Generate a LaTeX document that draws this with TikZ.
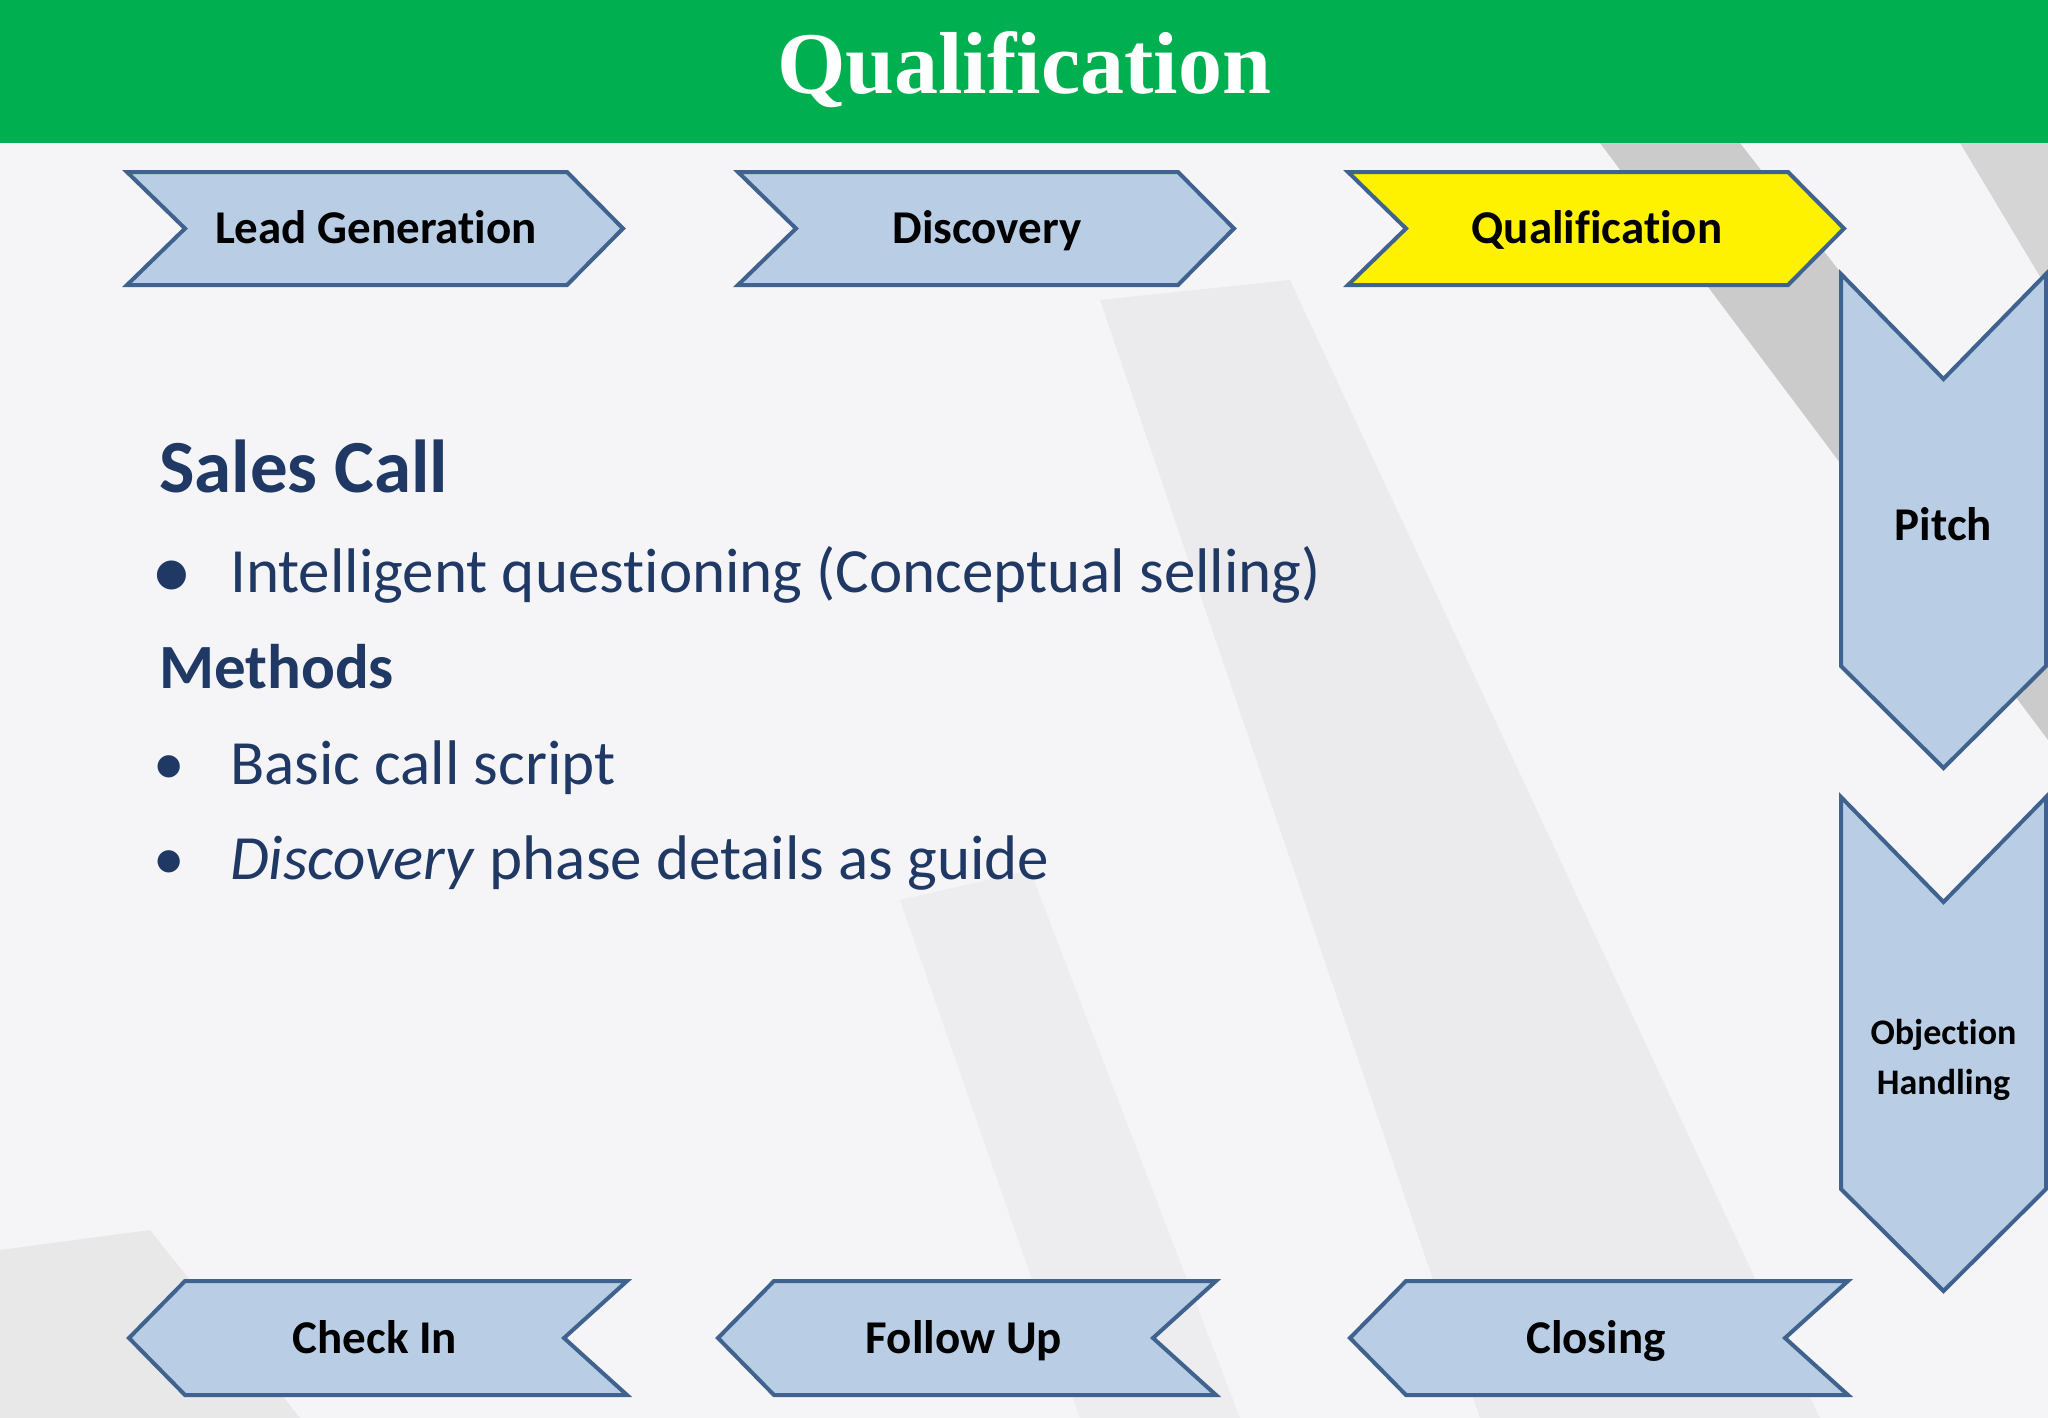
\documentclass[tikz,border=0pt]{standalone}
\usepackage{fontspec}
\setmainfont[Ligatures=CommonOff]{Carlito}
\newfontfamily\titlefont{Liberation Serif}
\usepackage{xcolor}
\usepackage{tikz}
\definecolor{bannergreen}{HTML}{00B050}
\definecolor{chevblue}{HTML}{B9CDE5}
\definecolor{chevline}{HTML}{3F628E}
\definecolor{navy}{HTML}{1F3864}
\definecolor{slidebg}{HTML}{F5F5F7}
\definecolor{brush}{HTML}{8E8E8A}
\tikzset{
  chev/.style={draw=chevline,line width=4pt,line join=miter,fill=chevblue},
  stagelbl/.style={font=\fontsize{47}{50}\selectfont\bfseries,text=black,text height=30pt,text depth=0pt},
  bodytxt/.style={font=\fontsize{63}{70}\selectfont,text=navy,anchor=base west,inner sep=0pt},
  headtxt/.style={bodytxt,font=\fontsize{75}{80}\selectfont\bfseries},
  streak/.style={fill=brush,opacity=0.22}
}
% stage arrows: right, left and down
\newcommand{\rchev}[4]{\draw[chev,fill=#4] (#1,172) -- (#1+440,172) -- (#1+496,228.5) -- (#1+440,285) -- (#1,285) -- (#1+58,228.5) -- cycle;
  \node[stagelbl] (#2) at (#1+249,228.5) {#3};}
\newcommand{\lchev}[3]{\draw[chev] (#1,1338) -- (#1+56,1281) -- (#1+498,1281) -- (#1+435,1338) -- (#1+498,1395) -- (#1+56,1395) -- cycle;
  \node[stagelbl] (#2) at (#1+246,1338) {#3};}
\newcommand{\dchev}[4]{\draw[chev] (1841,#1) -- (1943.5,#1+105) -- (2046,#1) -- (2046,#1+392) -- (1943.5,#1+494) -- (1841,#1+392) -- cycle;
  \node[stagelbl,align=center,text height=,text depth=] (#2) at (1943.5,#4) {#3};}

\begin{document}
\begin{tikzpicture}[x=1pt,y=-1pt]
\useasboundingbox (0,0) rectangle (2048,1418);
\clip (0,0) rectangle (2048,1418);
\fill[slidebg] (0,0) rectangle (2048,1418);
% brush streaks
\fill[streak,opacity=0.4] (1600,143) -- (1740,143) -- (2048,540) -- (2048,740) -- cycle;
\fill[streak,opacity=0.3] (1960,143) -- (2048,143) -- (2048,290) -- cycle;
\fill[streak,opacity=0.09] (1100,300) -- (1290,280) -- (1820,1418) -- (1480,1418) -- cycle;
\fill[streak,opacity=0.07] (900,900) -- (1030,870) -- (1240,1418) -- (1080,1418) -- cycle;
\fill[streak,opacity=0.12] (0,1250) -- (150,1230) -- (300,1418) -- (0,1418) -- cycle;
% title banner
\fill[bannergreen] (0,0) rectangle (2048,143);
\node[font=\titlefont\bfseries\fontsize{88}{90}\selectfont,text=white] (title) at (1024,70) {Qualification};
% stages
\rchev{127}{leadgen}{Lead Generation}{chevblue}
\rchev{738}{discovery}{Discovery}{chevblue}
\rchev{1348}{qualif}{Qualification}{yellow}
\dchev{274}{pitch}{Pitch}{524}
\dchev{797}{objection}{\fontsize{36}{44}\selectfont Objection\\\fontsize{36}{44}\selectfont Handling}{1060}
\lchev{1350}{closing}{Closing}
\lchev{718}{followup}{Follow Up}
\lchev{129}{checkin}{Check In}
% body text
\node[headtxt] (salescall) at (159,492) {Sales Call};
\node[bodytxt] (item1) at (230,592) {Intelligent questioning (Conceptual selling)};
\node[headtxt,font=\fontsize{63}{70}\selectfont\bfseries] (methods) at (159,688) {Methods};
\node[bodytxt] (item2) at (230,784) {Basic call script};
\node[bodytxt] (item3) at (230,879) {\textit{Discovery} phase details as guide};
\node[bodytxt,anchor=base,font=\fontsize{82}{82}\selectfont] (bul1) at (172,598) {\textbullet};
\node[bodytxt,anchor=base] (bul2) at (169,784) {\textbullet};
\node[bodytxt,anchor=base] (bul3) at (169,879) {\textbullet};
\end{tikzpicture}
\end{document}
